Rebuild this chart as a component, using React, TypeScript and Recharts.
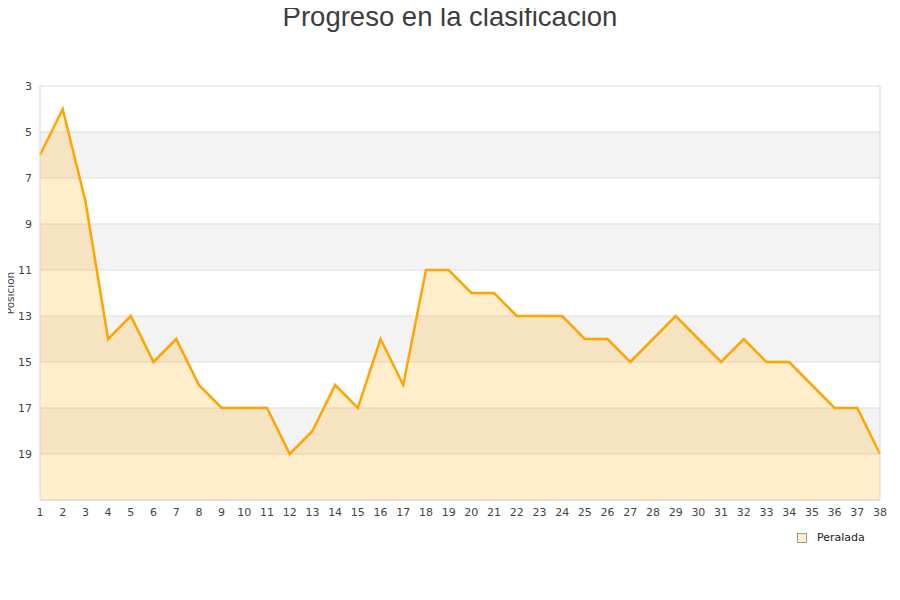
import {
  AreaChart,
  Area,
  XAxis,
  YAxis,
  CartesianGrid,
  ReferenceLine,
} from 'recharts';

const jornadas = [
  1, 2, 3, 4, 5, 6, 7, 8, 9, 10, 11, 12, 13, 14, 15, 16, 17, 18, 19,
  20, 21, 22, 23, 24, 25, 26, 27, 28, 29, 30, 31, 32, 33, 34, 35, 36, 37, 38,
];
const posiciones = [
  6, 4, 8, 14, 13, 15, 14, 16, 17, 17, 17, 19, 18, 16, 17, 14, 16, 11, 11,
  12, 12, 13, 13, 13, 14, 14, 15, 14, 13, 14, 15, 14, 15, 15, 16, 17, 17, 19,
];
const yTicks = [3, 5, 7, 9, 11, 13, 15, 17, 19];
const equipo = 'Peralada';
const titulo = 'Progreso en la clasificacion';

const data = jornadas.map((j, i) => ({ jornada: j, pos: posiciones[i] }));

const tickStyle = { fontSize: 11, fill: '#444', fontFamily: 'DejaVu Sans' };

export default function App() {
  return (
    <div style={{ position: 'relative', width: 900, height: 600, margin: -8, background: '#fff' }}>
      <AreaChart
        width={900}
        height={600}
        data={data}
        margin={{ top: 86, right: 20, left: 0, bottom: 70 }}
      >
        <CartesianGrid
          vertical={false}
          stroke="#dddddd"
          horizontalFill={['#ffffff', '#f3f3f3']}
          fillOpacity={1}
        />
        <XAxis
          dataKey="jornada"
          tickLine={false}
          axisLine={{ stroke: '#d9d9d9' }}
          tick={tickStyle}
          interval={0}
        />
        <YAxis
          reversed
          type="number"
          domain={[3, 21]}
          ticks={yTicks}
          width={40}
          tickLine={false}
          axisLine={{ stroke: '#d9d9d9' }}
          tick={tickStyle}
          interval={0}
          label={{
            content: ({ viewBox }: any) => (
              <text
                x={0}
                y={0}
                transform={`translate(14, ${viewBox.y + viewBox.height / 2}) rotate(-90)`}
                textAnchor="middle"
                style={{ fontSize: 10.5, fill: '#444', fontFamily: 'DejaVu Sans' }}
              >
                Posicion
              </text>
            ),
          }}
        />
        <ReferenceLine x={38} stroke="#d9d9d9" />
        <Area
          type="linear"
          dataKey="pos"
          name={equipo}
          baseValue="dataMax"
          stroke="#FFA500"
          strokeWidth={2.5}
          fill="#FFA500"
          fillOpacity={0.2}
          dot={false}
          activeDot={false}
          isAnimationActive={false}
        />
      </AreaChart>
      <svg
        width={900}
        height={45}
        style={{ position: 'absolute', top: 0, left: 0, zIndex: 2, overflow: 'visible' }}
      >
        <text
          x={450}
          y={26}
          textAnchor="middle"
          style={{ fontSize: 27.5, fill: '#3d3d3d', fontFamily: 'Liberation Sans' }}
        >
          {titulo}
        </text>
      </svg>
      <div
        style={{
          position: 'absolute',
          left: 797,
          top: 531,
          display: 'flex',
          alignItems: 'center',
          fontFamily: 'DejaVu Sans',
          fontSize: 11,
          color: '#222',
          zIndex: 2,
        }}
      >
        <span
          style={{
            width: 8,
            height: 8,
            background: '#FFEDCC',
            border: '1px solid #999',
            marginRight: 10,
            display: 'inline-block',
          }}
        />
        {equipo}
      </div>
    </div>
  );
}
